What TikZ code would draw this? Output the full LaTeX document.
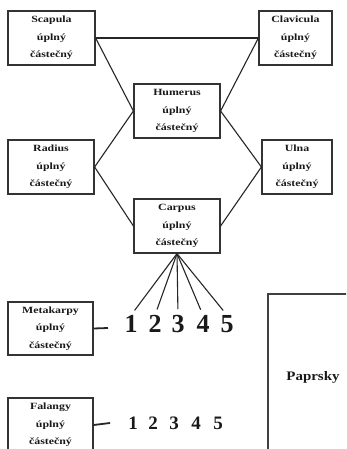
\documentclass[tikz,border=0pt]{standalone}
\usepackage{fontspec}
\setmainfont{Liberation Serif}
\newfontfamily\boxfont[FakeStretch=1.25]{Liberation Serif}
\newfontfamily\papfont[FakeStretch=1.15]{Liberation Serif}
\newfontfamily\digitfont{Liberation Serif}
\begin{document}
\begin{tikzpicture}[x=1pt,y=-1pt,
  bone/.style={draw=black!80, line width=1.2pt, inner sep=0pt, minimum height=54pt,
    align=center, text=black!90,
    font=\boxfont\bfseries\fontsize{9.5}{17.5}\selectfont},
  link/.style={draw=black!85, line width=1.1pt},
  stub/.style={draw=black!85, line width=1.8pt},
  bigdigit/.style={inner sep=0pt, text=black!90, font=\digitfont\bfseries\fontsize{26}{26}\selectfont},
  smalldigit/.style={inner sep=0pt, text=black!90, font=\digitfont\bfseries\fontsize{19}{19}\selectfont}]
\useasboundingbox (0,0) rectangle (346,449);
\clip (0,0) rectangle (346,449);
\fill[white] (0,0) rectangle (346,449);

% bones of the limb
\node[bone, minimum width=87pt] (scap) at (51.5,38) {Scapula\\úplný\\částečný};
\node[bone, minimum width=73pt] (clav) at (295.5,38) {Clavicula\\úplný\\částečný};
\node[bone, minimum width=86pt] (hum)  at (177,111) {Humerus\\úplný\\částečný};
\node[bone, minimum width=86pt] (rad)  at (51,167) {Radius\\úplný\\částečný};
\node[bone, minimum width=70pt] (ulna) at (297,167) {Ulna\\úplný\\částečný};
\node[bone, minimum width=86pt] (carp) at (177,226) {Carpus\\úplný\\částečný};
\node[bone, minimum width=85pt, minimum height=53pt] (meta) at (50.5,328.5) {Metakarpy\\úplný\\částečný};
\node[bone, minimum width=85pt] (fal)  at (50.5,425) {Falangy\\úplný\\částečný};

% rays box, running off the page
\draw[draw=black!75, line width=1.6pt] (268,294) rectangle (358,462);
\node[inner sep=0pt, text=black!90, font=\papfont\bfseries\fontsize{13}{13}\selectfont] (pap) at (313,377) {Paprsky};

% connectors between bones
\draw[link] (scap.east) -- (clav.west);
\draw[link] (scap.east) -- (hum.west);
\draw[link] (clav.west) -- (hum.east);
\draw[link] (rad.east) -- (hum.west);
\draw[link] (rad.east) -- (carp.west);
\draw[link] (ulna.west) -- (hum.east);
\draw[link] (ulna.west) -- (carp.east);

% metacarpal digits
\node[bigdigit] (m1) at (131,324) {1};
\node[bigdigit] (m2) at (155,324) {2};
\node[bigdigit] (m3) at (178,324) {3};
\node[bigdigit] (m4) at (203,324) {4};
\node[bigdigit] (m5) at (227,324) {5};
\foreach \d in {m1,m2,m3,m4,m5}
  \draw[link, shorten >=6pt] (carp.south) -- (\d.north);
\coordinate (mend) at (108,328);
\draw[stub] (meta.east) -- (mend);

% phalanx digits
\node[smalldigit] (f1) at (133,423) {1};
\node[smalldigit] (f2) at (153,423) {2};
\node[smalldigit] (f3) at (174,423) {3};
\node[smalldigit] (f4) at (196,423) {4};
\node[smalldigit] (f5) at (218,423) {5};
\coordinate (fend) at (110,423);
\draw[stub] (fal.east) -- (fend);
\end{tikzpicture}
\end{document}
